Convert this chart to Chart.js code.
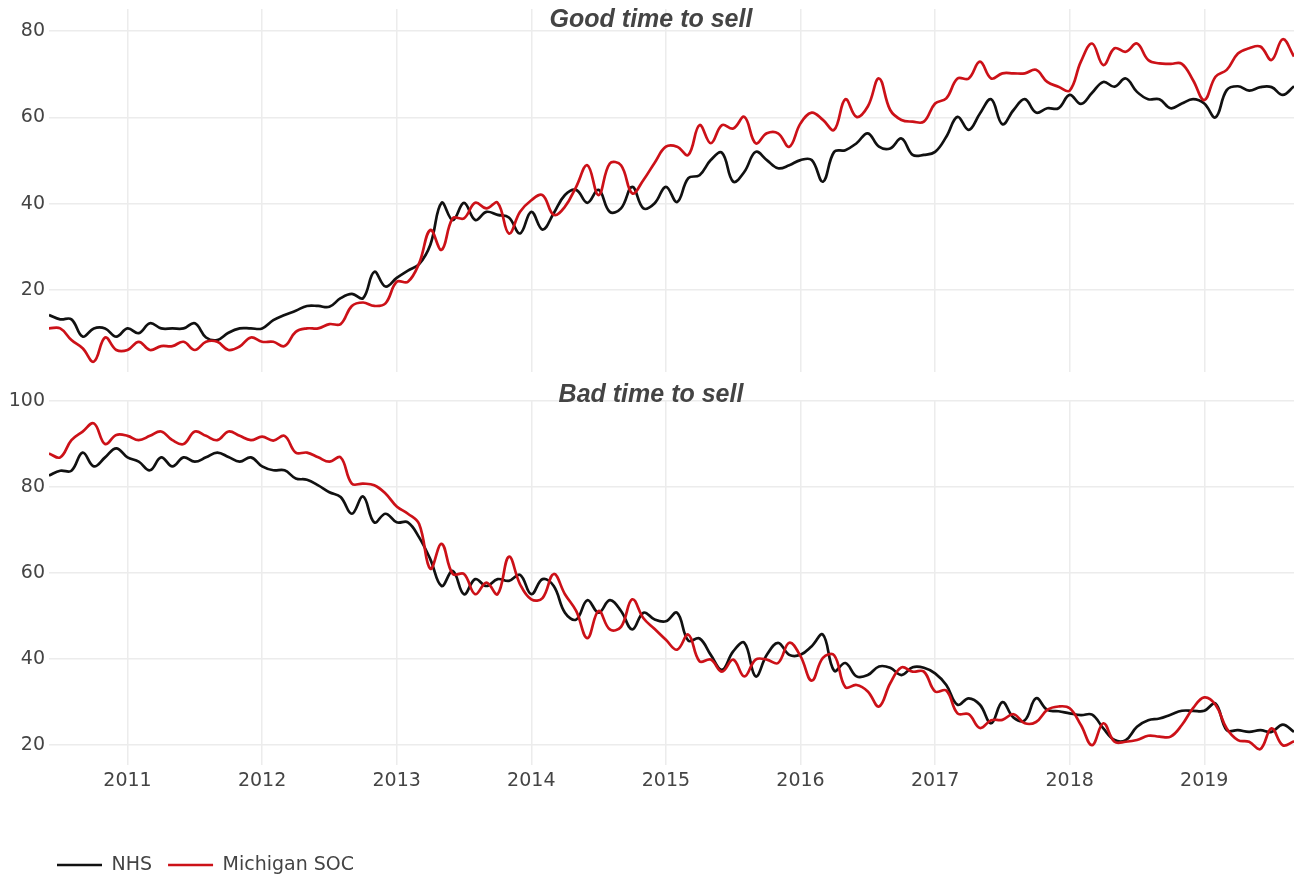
<!DOCTYPE html>
<html>
<head>
<meta charset="utf-8">
<script src="https://cdn.jsdelivr.net/npm/chart.js@4.4.1/dist/chart.umd.min.js"></script>
<style>
html,body{margin:0;padding:0;background:#fff;overflow:hidden;width:1294px;height:879px;}
#topChart{position:absolute;left:0;top:0;}
#botChart{position:absolute;left:0;top:380px;}
</style>
</head>
<body>
<canvas id="topChart" width="1294" height="380"></canvas>
<canvas id="botChart" width="1294" height="510"></canvas>
<script>
// ---------- data ----------
const months = [
  '2010-06','2010-07','2010-08','2010-09','2010-10','2010-11','2010-12',
  '2011-01','2011-02','2011-03','2011-04','2011-05','2011-06','2011-07','2011-08','2011-09','2011-10','2011-11','2011-12',
  '2012-01','2012-02','2012-03','2012-04','2012-05','2012-06','2012-07','2012-08','2012-09','2012-10','2012-11','2012-12',
  '2013-01','2013-02','2013-03','2013-04','2013-05','2013-06','2013-07','2013-08','2013-09','2013-10','2013-11','2013-12',
  '2014-01','2014-02','2014-03','2014-04','2014-05','2014-06','2014-07','2014-08','2014-09','2014-10','2014-11','2014-12',
  '2015-01','2015-02','2015-03','2015-04','2015-05','2015-06','2015-07','2015-08','2015-09','2015-10','2015-11','2015-12',
  '2016-01','2016-02','2016-03','2016-04','2016-05','2016-06','2016-07','2016-08','2016-09','2016-10','2016-11','2016-12',
  '2017-01','2017-02','2017-03','2017-04','2017-05','2017-06','2017-07','2017-08','2017-09','2017-10','2017-11','2017-12',
  '2018-01','2018-02','2018-03','2018-04','2018-05','2018-06','2018-07','2018-08','2018-09','2018-10','2018-11','2018-12',
  '2019-01','2019-02','2019-03','2019-04','2019-05','2019-06','2019-07','2019-08','2019-09'
];

const goodNHS = [
  14.2, 13.2, 13.2, 9.2, 11.1, 11.1, 9.2,
  11.1, 10.0, 12.3, 11.1, 11.1, 11.1, 12.3, 9.0, 8.4, 10.1, 11.1, 11.1,
  11.1, 13.0, 14.2, 15.2, 16.3, 16.3, 16.1, 18.1, 19.1, 18.1, 24.2, 20.8,
  22.8, 24.5, 26.0, 30.5, 40.2, 36.2, 40.2, 36.2, 38.1, 37.4, 36.8, 33.1,
  38.1, 34.0, 37.8, 42.0, 43.2, 40.2, 43.2, 38.1, 38.9, 43.9, 38.9, 40.1,
  43.9, 40.4, 45.9, 46.6, 50.1, 51.8, 45.1, 47.4, 52.0, 50.1, 48.2, 48.9,
  50.1, 50.1, 45.1, 52.0, 52.4, 54.0, 56.3, 53.2, 52.8, 55.1, 51.3, 51.3,
  52.0, 55.5, 60.1, 57.1, 60.9, 64.2, 58.4, 61.7, 64.2, 61.1, 62.1, 62.1,
  65.2, 63.1, 65.7, 68.2, 67.1, 69.0, 65.9, 64.2, 64.2, 62.1, 63.2, 64.2,
  63.2, 60.0, 66.3, 67.2, 66.2, 67.0, 67.0, 65.2, 67.2
];

const goodSOC = [
  11.1, 11.1, 8.4, 6.5, 3.4, 9.0, 6.1,
  6.1, 8.0, 6.1, 7.0, 7.0, 8.0, 6.1, 8.0, 8.0, 6.1, 6.9, 9.0,
  8.0, 8.0, 7.0, 10.3, 11.1, 11.1, 12.1, 12.1, 16.3, 17.1, 16.3, 16.9,
  21.9, 21.9, 26.2, 33.9, 29.3, 36.6, 36.6, 40.2, 38.9, 40.2, 33.1, 38.1,
  40.8, 42.0, 37.4, 39.3, 43.9, 48.9, 42.0, 49.3, 48.9, 42.4, 45.5, 49.5,
  53.2, 53.2, 51.3, 58.2, 54.0, 58.2, 57.4, 60.1, 54.0, 56.3, 56.3, 53.2,
  58.6, 61.1, 59.4, 57.1, 64.2, 60.1, 62.5, 69.0, 61.7, 59.4, 59.0, 59.0,
  63.2, 64.4, 69.0, 69.0, 72.9, 69.0, 70.2, 70.2, 70.2, 71.0, 68.2, 67.1,
  66.2, 72.9, 77.1, 72.1, 76.0, 75.2, 77.1, 73.3, 72.5, 72.4, 72.4, 68.6,
  64.0, 69.4, 71.0, 74.8, 76.0, 76.4, 73.3, 78.1, 74.1
];

const badNHS = [
  82.7, 83.8, 83.8, 88.0, 84.8, 86.9, 89.0,
  86.9, 85.9, 83.9, 86.9, 84.8, 86.9, 85.9, 86.9, 88.0, 87.0, 85.9, 86.9,
  84.8, 83.9, 83.9, 82.0, 81.7, 80.4, 78.8, 77.7, 73.8, 77.8, 71.8, 73.8,
  71.8, 71.8, 68.3, 63.2, 57.0, 60.5, 55.1, 58.6, 57.0, 58.6, 58.2, 59.6,
  55.1, 58.6, 57.0, 50.8, 49.2, 53.7, 50.8, 53.7, 51.2, 46.9, 50.8, 49.2,
  48.8, 50.8, 44.3, 44.8, 41.0, 37.5, 41.8, 43.8, 36.0, 41.0, 43.8, 41.0,
  41.0, 43.0, 45.7, 37.3, 39.1, 36.0, 36.3, 38.3, 38.0, 36.3, 38.1, 38.0,
  36.7, 34.0, 29.4, 30.9, 29.4, 25.1, 30.0, 26.4, 25.8, 30.9, 28.2, 27.9,
  27.4, 27.0, 27.1, 23.9, 21.2, 21.2, 24.3, 25.8, 26.2, 27.1, 28.0, 28.0,
  28.0, 29.7, 23.5, 23.5, 23.1, 23.5, 23.1, 24.8, 23.1
];

const badSOC = [
  87.8, 86.9, 90.9, 92.9, 94.8, 90.0, 92.1,
  91.9, 90.9, 91.9, 92.9, 90.9, 90.0, 92.9, 91.9, 90.9, 92.9, 91.9, 90.9,
  91.7, 90.8, 91.9, 88.0, 88.0, 86.9, 85.9, 86.9, 80.8, 80.8, 80.4, 78.5,
  75.5, 73.8, 71.4, 61.0, 66.8, 59.8, 59.8, 55.1, 57.8, 55.1, 63.8, 57.4,
  53.9, 54.2, 59.8, 55.1, 51.2, 44.9, 51.2, 46.9, 47.5, 53.9, 49.5, 47.0,
  44.5, 42.2, 45.7, 39.5, 39.9, 37.1, 39.9, 36.0, 39.9, 39.9, 39.1, 43.8,
  40.7, 35.0, 40.3, 40.9, 33.5, 34.0, 32.5, 29.0, 34.4, 38.1, 37.1, 37.1,
  32.5, 32.7, 27.4, 27.2, 24.0, 25.8, 25.9, 27.2, 25.1, 25.4, 28.2, 29.0,
  28.6, 24.7, 20.0, 25.1, 20.8, 20.8, 21.2, 22.2, 22.0, 22.0, 24.7, 28.6,
  31.1, 29.4, 23.9, 21.2, 20.8, 19.1, 23.9, 20.0, 20.9
];

const yearTicks = [2011, 2012, 2013, 2014, 2015, 2016, 2017, 2018, 2019];
const goodTicks = [20, 40, 60, 80];
const badTicks = [20, 40, 60, 80, 100];
const seriesNames = ['NHS', 'Michigan SOC'];
const panelTitles = ['Good time to sell', 'Bad time to sell'];

// ---------- helpers ----------
const toYear = m => { const [y, mo] = m.split('-').map(Number); return y + (mo - 1) / 12; };
const xs = months.map(toYear);
const pts = arr => arr.map((v, i) => ({x: xs[i], y: v}));
const X_MIN = xs[0], X_MAX = xs[xs.length - 1];

const NHS_COLOR = '#111111';
const SOC_COLOR = '#cc1118';
const GRID = '#ececec';
const TEXT = '#444444';

Chart.defaults.font.family = '"DejaVu Sans", Verdana, sans-serif';
Chart.defaults.font.size = 19;
Chart.defaults.color = TEXT;

const panelTitle = {
  id: 'panelTitle',
  afterDraw(chart, args, opts) {
    if (!opts || !opts.text) return;
    const ctx = chart.ctx;
    ctx.save();
    ctx.font = 'italic bold 25px "Liberation Sans", Arial, sans-serif';
    ctx.fillStyle = TEXT;
    ctx.textAlign = 'center';
    ctx.textBaseline = 'alphabetic';
    ctx.fillText(opts.text, opts.x, opts.y);
    ctx.restore();
  }
};

// moves the legend box right so its first item starts under the plot
const legendShift = {
  id: 'legendShift',
  afterLayout(chart, args, opts) {
    if (chart.legend && opts && opts.dx) {
      chart.legend.left += opts.dx;
      chart.legend.right += opts.dx;
    }
  }
};

function makeDatasets(nhs, soc) {
  return [
    {label: seriesNames[0], data: pts(nhs), borderColor: NHS_COLOR, backgroundColor: NHS_COLOR,
     borderWidth: 2.7, pointRadius: 0, tension: 0.4, order: 1},
    {label: seriesNames[1], data: pts(soc), borderColor: SOC_COLOR, backgroundColor: SOC_COLOR,
     borderWidth: 2.7, pointRadius: 0, tension: 0.4, order: 0}
  ];
}

function makeOptions(cfg) {
  return {
    responsive: false,
    animation: false,
    events: [],
    layout: {padding: cfg.padding},
    scales: {
      x: {
        type: 'linear', min: X_MIN, max: X_MAX,
        grid: {color: GRID, lineWidth: 1.5, drawTicks: false},
        border: {display: false},
        afterBuildTicks: s => { s.ticks = yearTicks.map(v => ({value: v})); },
        afterFit: s => { s.height = cfg.xHeight; },
        ticks: {display: cfg.showX, padding: 5, maxRotation: 0, autoSkip: false,
                callback: v => String(v)}
      },
      y: {
        type: 'linear', min: cfg.yMin, max: cfg.yMax,
        grid: {color: GRID, lineWidth: 1.5, drawTicks: false},
        border: {display: false},
        afterBuildTicks: s => { s.ticks = cfg.yTicks.map(v => ({value: v})); },
        afterFit: s => { s.width = 49; },
        ticks: {padding: 4, font: {size: 19, lineHeight: 0.4}, callback: v => String(v)}
      }
    },
    plugins: {
      legend: cfg.legend,
      tooltip: {enabled: false},
      panelTitle: cfg.title,
      legendShift: {dx: 41}
    }
  };
}

new Chart(document.getElementById('topChart'), {
  type: 'line',
  data: {datasets: makeDatasets(goodNHS, goodSOC)},
  options: makeOptions({
    padding: {left: 0, right: 0, top: 9, bottom: 8},
    xHeight: 0, showX: false,
    yMin: 1.0, yMax: 85.1, yTicks: goodTicks,
    legend: {display: false},
    title: {text: panelTitles[0], x: 651, y: 26.7}
  }),
  plugins: [panelTitle]
});

new Chart(document.getElementById('botChart'), {
  type: 'line',
  data: {datasets: makeDatasets(badNHS, badSOC)},
  options: makeOptions({
    padding: {left: 0, right: 0, top: 21, bottom: 5.5},
    xHeight: 74.5, showX: true,
    yMin: 15.4, yMax: 100, yTicks: badTicks,
    legend: {
      display: true, position: 'bottom', align: 'start',
      labels: {
        usePointStyle: true, pointStyle: 'line', pointStyleWidth: 45,
        padding: 16, color: TEXT,
        font: {size: 19},
        sort: (a, b) => a.datasetIndex - b.datasetIndex
      }
    },
    title: {text: panelTitles[1], x: 651, y: 21.7}
  }),
  plugins: [panelTitle, legendShift]
});
</script>
</body>
</html>
